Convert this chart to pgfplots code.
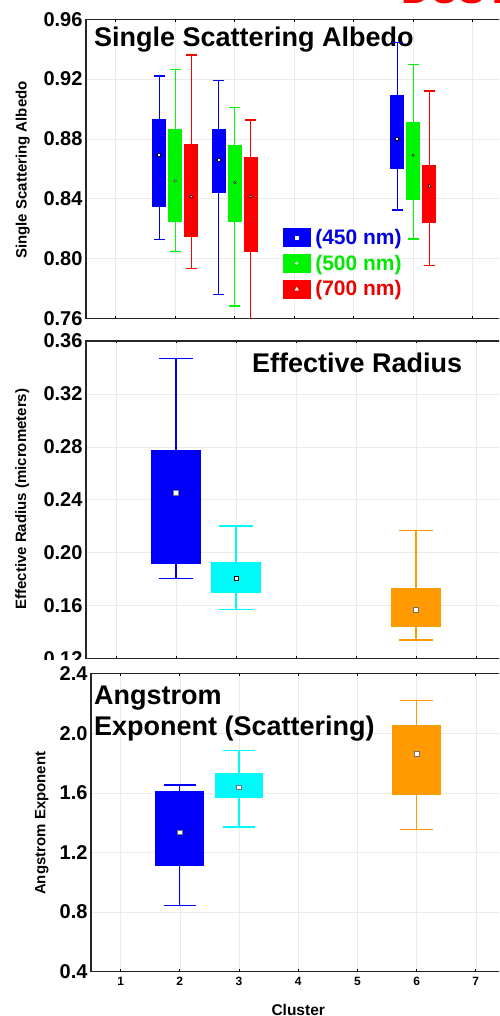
\documentclass[border=0pt]{standalone}
\usepackage{fontspec}
\setmainfont{Liberation Sans}
\usepackage{pgfplots}
\pgfplotsset{compat=1.18}
\usepgfplotslibrary{statistics}

\definecolor{cBlue}{RGB}{0,0,250}
\definecolor{cGreen}{RGB}{0,245,0}
\definecolor{cRed}{RGB}{250,0,0}
\definecolor{cCyan}{RGB}{0,250,250}
\definecolor{cOrange}{RGB}{255,155,0}
\definecolor{gridgray}{RGB}{235,235,235}

\pgfplotsset{
  panel/.style={
    scale only axis,
    anchor=south west,
    xmin=0.5, xmax=7.5,
    xtick={1,2,3,4,5,6,7},
    grid=major,
    major grid style={gridgray, line width=0.6pt},
    axis line style={line width=1.3pt, black!85},
    tick align=inside,
    xtick pos=both,
    ytick style={draw=none},
    xtick style={black, line width=0.8pt},
    major tick length=2.5pt,
    /pgf/number format/assume math mode=true,
    yticklabel style={font=\fontsize{20}{22}\selectfont\bfseries},
    xticklabel style={font=\fontsize{12}{14}\selectfont\bfseries, yshift=-2pt},
    ylabel style={font=\fontsize{15}{17}\selectfont\bfseries, anchor=center, rotate=0},
    xlabel style={font=\fontsize{15.5}{17}\selectfont\bfseries},
    clip=true,
    boxplot/draw direction=y,
  },
  smallbox/.style={forget plot, line width=1.3pt, boxplot/box extend=0.21, boxplot/whisker extend=0.18},
  bigbox/.style={forget plot, line width=1.3pt, boxplot/box extend=0.8, boxplot/whisker extend=0.56},
  centre/.style={forget plot, only marks},
  boxplot/draw/median/.code={},
}

\begin{document}
\begin{tikzpicture}
\path[use as bounding box] (0pt,0pt) rectangle (499pt,1016pt);
\begin{scope}
\clip (0pt,0pt) rectangle (499pt,1016pt);

% ---------------- Single scattering albedo ----------------
\begin{axis}[panel,
  at={(86pt,697.7pt)}, width=416.5pt, height=299pt,
  ymin=0.76, ymax=0.96,
  ytick={0.76,0.80,0.84,0.88,0.92,0.96},
  yticklabel style={/pgf/number format/.cd, fixed, fixed zerofill, precision=2},
  xticklabels={},
  ylabel={Single Scattering Albedo},
  ylabel style={at={(axis description cs:-0.152,0.496)}},
  legend style={at={(rel axis cs:0.473,0.302)}, anchor=north west,
    draw=none, fill=none, inner sep=0pt, row sep=7pt, column sep=4pt,
    font=\fontsize{21}{23}\selectfont\bfseries,
    nodes={inner sep=1pt}, cells={anchor=west}},
]
\node[anchor=base west, inner sep=0pt, font=\fontsize{27}{30}\selectfont\bfseries]
  at (rel axis cs:0.019,0.908) {Single Scattering Albedo};

% cluster 2
\addplot[smallbox, draw=cBlue, fill=cBlue, boxplot prepared={draw position=1.73,
  lower whisker=0.8128, lower quartile=0.8347, median=0.8697,
  upper quartile=0.8927, upper whisker=0.9220}] coordinates {};
\addplot[smallbox, draw=cGreen, fill=cGreen, boxplot prepared={draw position=2.0,
  lower whisker=0.8046, lower quartile=0.8251, median=0.8519,
  upper quartile=0.8860, upper whisker=0.9266}] coordinates {};
\addplot[smallbox, draw=cRed, fill=cRed, boxplot prepared={draw position=2.27,
  lower whisker=0.7934, lower quartile=0.8151, median=0.8414,
  upper quartile=0.8759, upper whisker=0.9361}] coordinates {};
% cluster 3
\addplot[smallbox, draw=cBlue, fill=cBlue, boxplot prepared={draw position=2.73,
  lower whisker=0.7760, lower quartile=0.8440, median=0.8659,
  upper quartile=0.8860, upper whisker=0.9190}] coordinates {};
\addplot[smallbox, draw=cGreen, fill=cGreen, boxplot prepared={draw position=3.0,
  lower whisker=0.7682, lower quartile=0.8246, median=0.8507,
  upper quartile=0.8757, upper whisker=0.9009}] coordinates {};
\addplot[smallbox, draw=cRed, fill=cRed, boxplot prepared={draw position=3.27,
  lower whisker=0.7400, lower quartile=0.8046, median=0.8414,
  upper quartile=0.8677, upper whisker=0.8927}] coordinates {};
% cluster 6
\addplot[smallbox, draw=cBlue, fill=cBlue, boxplot prepared={draw position=5.73,
  lower whisker=0.8324, lower quartile=0.8601, median=0.8799,
  upper quartile=0.9087, upper whisker=0.9444}] coordinates {};
\addplot[smallbox, draw=cGreen, fill=cGreen, boxplot prepared={draw position=6.0,
  lower whisker=0.8130, lower quartile=0.8396, median=0.8692,
  upper quartile=0.8909, upper whisker=0.9299}] coordinates {};
\addplot[smallbox, draw=cRed, fill=cRed, boxplot prepared={draw position=6.27,
  lower whisker=0.7954, lower quartile=0.8244, median=0.8485,
  upper quartile=0.8623, upper whisker=0.9121}] coordinates {};

% central markers
\addplot[centre, mark=square*, mark size=1.5pt, mark options={draw=none, fill=white}]
  coordinates {(1.73,0.8697) (2.73,0.8659) (5.73,0.8799)};
\addplot[centre, mark=*, mark size=1.2pt, mark options={draw=none, fill=white}]
  coordinates {(2.0,0.8519) (3.0,0.8507) (6.0,0.8692)};
\addplot[centre, mark=triangle*, mark size=1.7pt, mark options={draw=none, fill=white}]
  coordinates {(2.27,0.8414) (3.27,0.8414) (6.27,0.8485)};

\addlegendimage{legend image code/.code={
  \fill[cBlue] (0pt,-9pt) rectangle (26.7pt,9pt);
  \fill[white] (11.8pt,-1.6pt) rectangle (15pt,1.6pt);}}
\addlegendentry{\textcolor{cBlue!90!black}{(450 nm)}}
\addlegendimage{legend image code/.code={
  \fill[cGreen] (0pt,-9pt) rectangle (26.7pt,9pt);
  \fill[white] (13.35pt,0pt) circle (1.3pt);}}
\addlegendentry{\textcolor{cGreen!95!black}{(500 nm)}}
\addlegendimage{legend image code/.code={
  \fill[cRed] (0pt,-9pt) rectangle (26.7pt,9pt);
  \fill[white] (11.6pt,-1.3pt) -- (15.1pt,-1.3pt) -- (13.35pt,1.8pt) -- cycle;}}
\addlegendentry{\textcolor{cRed!95!black}{(700 nm)}}
\end{axis}

% ---------------- Effective radius ----------------
\begin{axis}[panel,
  at={(86pt,357.5pt)}, width=420pt, height=317.5pt,
  ymin=0.12, ymax=0.36,
  ytick={0.12,0.16,0.20,0.24,0.28,0.32,0.36},
  yticklabel style={/pgf/number format/.cd, fixed, fixed zerofill, precision=2},
  xticklabels={},
  ylabel={Effective Radius (micrometers)},
  ylabel style={at={(axis description cs:-0.152,0.502)}},
]
\node[anchor=base west, inner sep=0pt, font=\fontsize{27}{30}\selectfont\bfseries]
  at (rel axis cs:0.395,0.901) {Effective Radius};

\addplot[bigbox, draw=cBlue, fill=cBlue, boxplot prepared={draw position=2,
  lower whisker=0.1804, lower quartile=0.1920, median=0.2454,
  upper quartile=0.2769, upper whisker=0.3467}] coordinates {};
\addplot[bigbox, draw=cCyan, fill=cCyan, boxplot prepared={draw position=3,
  lower whisker=0.1570, lower quartile=0.1698, median=0.1804,
  upper quartile=0.1925, upper whisker=0.2202}] coordinates {};
\addplot[bigbox, draw=cOrange, fill=cOrange, boxplot prepared={draw position=6,
  lower whisker=0.1340, lower quartile=0.1444, median=0.1570,
  upper quartile=0.1728, upper whisker=0.2169}] coordinates {};

\addplot[centre, mark=square*, mark size=2.3pt, mark options={draw=black!55, fill=white, line width=0.5pt}]
  coordinates {(2,0.2454) (6,0.1570)};
\addplot[centre, mark=square*, mark size=2.0pt, mark options={draw=none, fill=white}]
  coordinates {(3,0.1804)};
\end{axis}

% the lower panel's frame covers the bottom of this label column
\fill[white] (0pt,342pt) rectangle (85pt,356.4pt);

% ---------------- Angstrom exponent ----------------
\begin{axis}[panel,
  at={(91pt,44.3pt)}, width=414.4pt, height=298pt,
  ymin=0.4, ymax=2.4,
  ytick={0.4,0.8,1.2,1.6,2.0,2.4},
  yticklabel style={/pgf/number format/.cd, fixed, fixed zerofill, precision=1},
  xlabel={Cluster},
  xlabel style={at={(axis description cs:0.5,-0.147)}, anchor=base},
  ylabel={Angstrom Exponent},
  ylabel style={at={(axis description cs:-0.119,0.498)}},
]
\node[anchor=base west, inner sep=0pt, font=\fontsize{27}{30}\selectfont\bfseries]
  at (rel axis cs:0.007,0.895) {Angstrom};
\node[anchor=base west, inner sep=0pt, font=\fontsize{27}{30}\selectfont\bfseries]
  at (rel axis cs:0.007,0.792) {Exponent (Scattering)};

\addplot[bigbox, draw=cBlue, fill=cBlue, boxplot/whisker extend=0.55, boxplot prepared={draw position=2,
  lower whisker=0.843, lower quartile=1.115, median=1.337,
  upper quartile=1.607, upper whisker=1.654}] coordinates {};
\addplot[bigbox, draw=cCyan, fill=cCyan, boxplot/whisker extend=0.55, boxplot prepared={draw position=3,
  lower whisker=1.371, lower quartile=1.571, median=1.638,
  upper quartile=1.726, upper whisker=1.883}] coordinates {};
\addplot[bigbox, draw=cOrange, fill=cOrange, boxplot/whisker extend=0.55, boxplot prepared={draw position=6,
  lower whisker=1.355, lower quartile=1.593, median=1.861,
  upper quartile=2.050, upper whisker=2.218}] coordinates {};

\addplot[centre, mark=square*, mark size=2.3pt, mark options={draw=black!55, fill=white, line width=0.5pt}]
  coordinates {(2,1.337) (3,1.638) (6,1.861)};
\end{axis}

% red heading running off the top edge
\node[anchor=base west, inner sep=0pt, text=red, font=\fontsize{40}{44}\selectfont\bfseries]
  at (401pt,1012.5pt) {DUST};
\end{scope}
\end{tikzpicture}
\end{document}
